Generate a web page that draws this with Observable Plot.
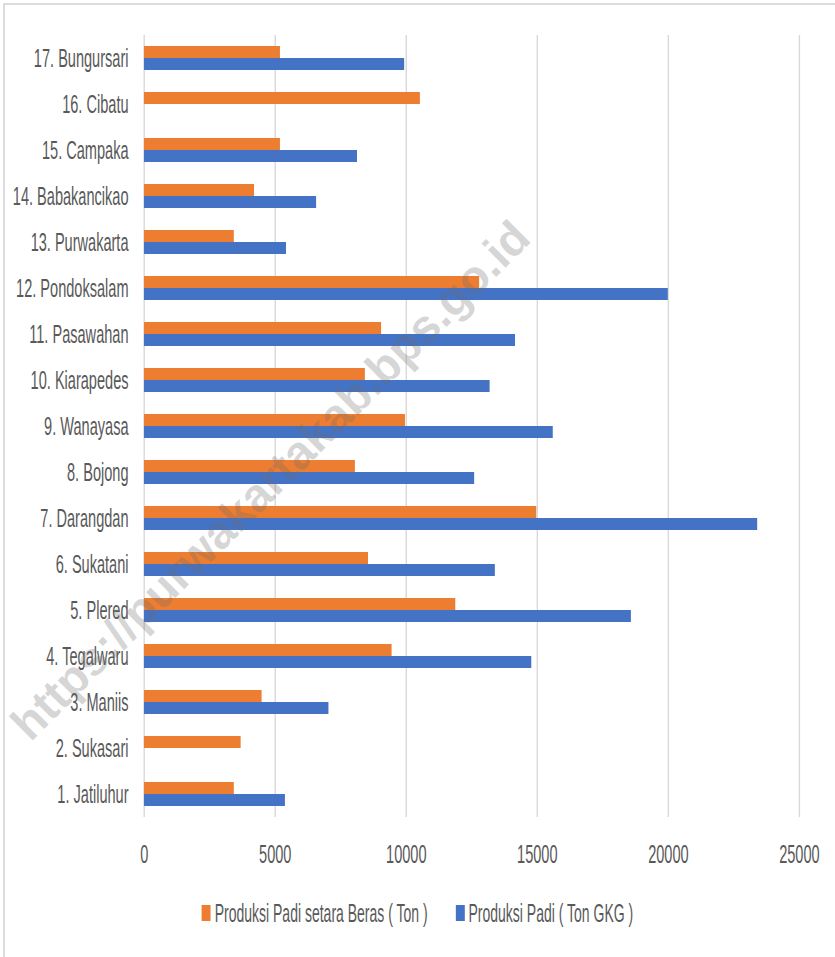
<!DOCTYPE html>
<html>
<head>
<meta charset="utf-8">
<script src="https://cdn.jsdelivr.net/npm/d3@7"></script>
<script src="https://cdn.jsdelivr.net/npm/@observablehq/plot@0.6"></script>
<style>
  html, body { margin: 0; padding: 0; background: #fff; overflow: hidden; width: 835px; height: 957px; }
  #frame { position: absolute; left: 3px; top: 3px; width: 900px; height: 1000px;
           border-top: 2px solid #dcdcdc; border-left: 2px solid #dcdcdc; }
  #chart { position: absolute; left: 0; top: 0; width: 1491px; height: 957px;
           transform: scaleX(0.56); transform-origin: 0 0; }
  #legend { position: absolute; left: 0; top: 900px; width: 1491px; height: 26px;
            display: flex; justify-content: center; align-items: center;
            font-family: "Liberation Sans", Arial, sans-serif; font-size: 25px; color: #595959; }
  .item { display: flex; align-items: center; margin: 0 25px; }
  .sw { width: 16px; height: 16px; margin-right: 7px; }
  #wm { position: absolute; left: 270px; top: 480px; transform: translate(-50%, -50%) rotate(-45deg);
        white-space: nowrap; font-family: "Liberation Sans", Arial, sans-serif; font-weight: bold;
        font-size: 47px; color: rgba(110,110,110,0.28); pointer-events: none; }
</style>
</head>
<body>
<div id="frame"></div>
<div id="chart"></div>
<div id="wm">https://purwakartakab.bps.go.id</div>
<script>
const districts = ["1. Jatiluhur", "2. Sukasari", "3. Maniis", "4. Tegalwaru", "5. Plered", "6. Sukatani",
  "7. Darangdan", "8. Bojong", "9. Wanayasa", "10. Kiarapedes", "11. Pasawahan", "12. Pondoksalam",
  "13. Purwakarta", "14. Babakancikao", "15. Campaka", "16. Cibatu", "17. Bungursari"];
const seriesNames = ["Produksi Padi setara Beras ( Ton )", "Produksi Padi ( Ton GKG )"];
const beras = [3430, 3690, 4490, 9450, 11880, 8550, 14970, 8050, 9960, 8430, 9050, 12790, 3430, 4200, 5190, 10530, 5190];
const padi = [5380, null, 7040, 14780, 18580, 13390, 23400, 12600, 15600, 13190, 14160, 19990, 5420, 6570, 8130, null, 9930];
const xTicks = [0, 5000, 10000, 15000, 20000, 25000];
const colors = ["#ED7D31", "#4472C4"];

const rows = [];
districts.forEach((d, i) => {
  rows.push({district: d, series: seriesNames[0], value: beras[i]});
  rows.push({district: d, series: seriesNames[1], value: padi[i]});
});

const chart = Plot.plot({
  width: 1491,
  height: 880,
  marginLeft: 257,
  marginRight: 64,
  marginTop: 35,
  marginBottom: 63,
  style: {fontFamily: "Liberation Sans, Arial, sans-serif", fontSize: "26px", color: "#595959", background: "transparent", overflow: "visible"},
  x: {domain: [0, 25000], ticks: xTicks, tickFormat: d => String(d), tickSize: 0, tickPadding: 27, label: null, axis: "bottom"},
  fy: {domain: districts.slice().reverse(), padding: 0, label: null, tickSize: 0, tickPadding: 28, axis: "left"},
  y: {domain: seriesNames, axis: null, paddingInner: 0, paddingOuter: 0.85},
  color: {domain: seriesNames, range: colors},
  marks: [
    Plot.ruleX(xTicks, {stroke: "#d9d9d9", strokeWidth: 2.5}),
    Plot.barX(rows.filter(r => r.value != null), {x: "value", y: "series", fy: "district", fill: "series"})
  ]
});
const host = document.getElementById("chart");
host.appendChild(chart);

const legend = document.createElement("div");
legend.id = "legend";
seriesNames.forEach((s, i) => {
  const it = document.createElement("div");
  it.className = "item";
  const sw = document.createElement("div");
  sw.className = "sw";
  sw.style.background = colors[i];
  const t = document.createElement("span");
  t.textContent = s;
  it.appendChild(sw);
  it.appendChild(t);
  legend.appendChild(it);
});
host.appendChild(legend);
</script>
</body>
</html>
